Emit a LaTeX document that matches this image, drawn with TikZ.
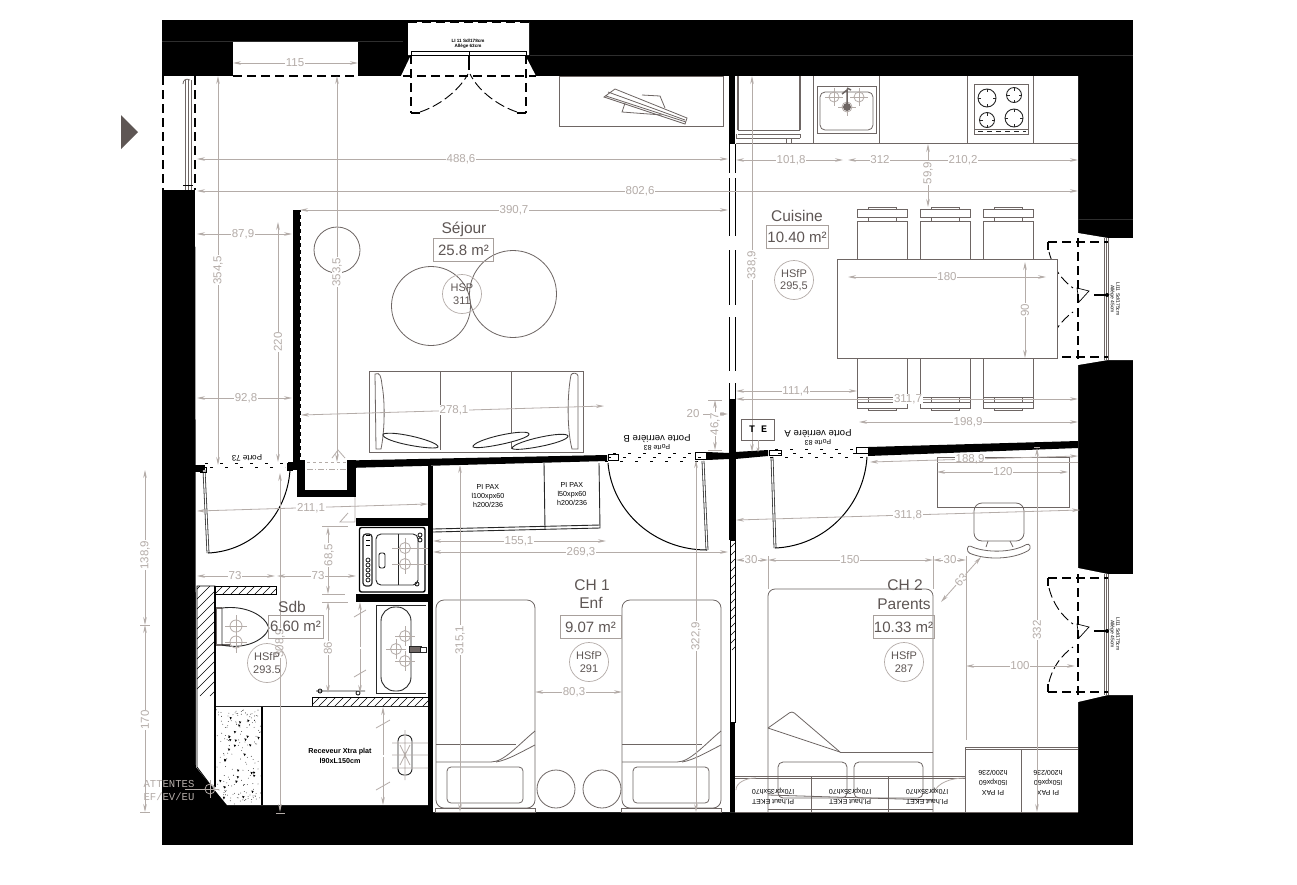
\documentclass[tikz,border=0pt]{standalone}
\usepackage{fontspec}
\setmainfont{Liberation Sans}
\newfontfamily\monof{Liberation Mono}
\usetikzlibrary{arrows.meta,calc}
\definecolor{dimc}{HTML}{B4ACA8}
\definecolor{roomc}{HTML}{5E5654}
\definecolor{linec}{HTML}{6E6664}
\definecolor{boxc}{HTML}{A8A09C}
\newcounter{nd}
\tikzset{
 dimline/.style={draw=dimc,line width=0.8pt,{Stealth[length=8pt,width=3.6pt]}-{Stealth[length=8pt,width=3.6pt]}},
 dimtext/.style={text=dimc,font=\fontsize{11.5}{13}\selectfont,fill=white,inner sep=0.6pt},
 ext/.style={draw=dimc,line width=0.8pt},
 furn/.style={draw=linec,line width=0.8pt},
 dark/.style={draw=black!85,line width=0.9pt},
 roomlabel/.style={text=roomc,font=\fontsize{15.5}{18}\selectfont,inner sep=0pt},
 arealabel/.style={draw=boxc,line width=0.7pt,text=roomc,font=\fontsize{15}{17}\selectfont,minimum height=23pt,inner sep=0pt,anchor=center},
 hsp/.style={circle,draw=dimc,line width=0.7pt,minimum size=39pt,inner sep=0pt,align=center,text=roomc,font=\fontsize{11}{12.5}\selectfont},
 tiny/.style={text=black,font=\fontsize{5.6}{7}\selectfont,align=center,inner sep=0pt},
 dashwin/.style={draw=black,line width=1.15pt,dash pattern=on 9pt off 5pt},
 dasharc/.style={draw=black,line width=0.9pt,dash pattern=on 10pt off 4pt},
 leaf/.style={draw=black!80,line width=0.8pt,double=white,double distance=1.2pt},
 swing/.style={draw=black,line width=1pt},
}
% dimension: from, to, text position, rotation, text
\newcommand{\dm}[5]{\stepcounter{nd}\draw[dimline] (#1) -- (#2);\node[dimtext,rotate=#4] (n\arabic{nd}) at (#3) {#5};}
\newcommand{\crossm}[3]{\draw[ext] (#1,#2) circle[radius=#3];\draw[ext] (#1-#3*1.8,#2) -- (#1+#3*1.8,#2) (#1,#2-#3*1.8) -- (#1,#2+#3*1.8);}
\newcommand{\burner}[3]{\draw[dark] (#1,#2) circle[radius=#3];\draw[dark] (#1-#3,#2) -- (#1-#3+3,#2) (#1+#3,#2) -- (#1+#3-3,#2) (#1,#2-#3) -- (#1,#2-#3+3) (#1,#2+#3) -- (#1,#2+#3-3);}
% hatching of a clip path: x range, y range
\newcommand{\hatch}[5]{\begin{scope}\clip #1;\foreach \k in {#2,#3,...,#4} {\draw[black,line width=0.6pt] (\k,#5) -- ++(-110,110);}\end{scope}\draw[black,line width=0.8pt] #1;}
\newcommand{\chairtop}[1]{
 \draw[furn] (#1,259) -- (#1,221) -- (#1+50,221) -- (#1+50,259);
 \draw[furn] (#1,209) rectangle (#1+50,217);
 \draw[furn] (#1+11,209) -- (#1+11,207) -- (#1+39,207) -- (#1+39,209);
 \draw[furn] (#1+11,217) -- (#1+11,221) (#1+39,217) -- (#1+39,221);}
\newcommand{\chairbot}[1]{
 \draw[furn] (#1,358) -- (#1,402) -- (#1+50,402) -- (#1+50,358);
 \draw[furn] (#1,397) -- (#1+50,397);
 \draw[furn] (#1,402) rectangle (#1+50,408);
 \draw[furn] (#1+11,408) -- (#1+11,410) -- (#1+39,410) -- (#1+39,408);
 \draw[furn] (#1+11,397) -- (#1+11,402) (#1+39,397) -- (#1+39,402);}
\newcommand{\bedone}[1]{
 \draw[furn,rounded corners=8pt] (#1,600) rectangle (#1+99,808);
 \draw[furn] (#1-1,808) rectangle (#1+99,812);
 \draw[furn] (#1,744) -- (#1+80,744);
 \draw[furn] (#1,762) -- (#1+55,762) .. controls (#1+68,762) and (#1+82,745) .. (#1+99,731);
 \draw[furn] (#1+60,762) .. controls (#1+72,760) and (#1+85,752) .. (#1+99,745);
 \draw[furn,rounded corners=4pt] (#1+11,767) rectangle (#1+87,803);}
\newcommand{\rwin}[4]{
 \fill[white] (1078,#1) -- (1108,#3) -- (1133,#3) -- (1133,#4) -- (1108,#4) -- (1078,#2) -- cycle;
 \draw[linec,line width=1pt] (1104,#3) -- (1104,#4) (1106,#3) -- (1106,#4) (1108,#3) -- (1108,#4);
 \draw[dashwin] (1048,#3+4) -- (1108,#3+4);
 \draw[dashwin] (1048,#4-3) -- (1108,#4-3);
 \draw[dashwin] (1078,#3) -- (1078,#4);
 \draw[black,line width=1.2pt] (1048,#3+4) -- (1048,#3+12) (1048,#4-3) -- (1048,#4-11);
 \draw[dasharc] (1049,#3+14) .. controls (1053,#3+30) and (1062,#3+42) .. (1073,#3+50);
 \draw[dasharc] (1049,#4-13) .. controls (1053,#4-29) and (1062,#4-40) .. (1073,#4-48);
 \draw[black,line width=0.7pt] (1077,#3+50) -- (1089,#3+53) -- (1079,#3+64) -- cycle;
 \draw[black,line width=1.4pt] (1094,#3+57) -- (1108,#3+57);
 \fill[black] (1107,#3+57) circle[radius=2pt];
}
\begin{document}
\begin{tikzpicture}[x=1pt,y=-1pt]
\useasboundingbox (0,0) rectangle (1297,884);
\fill[white] (0,0) rectangle (1297,884);
%% masonry
\fill[black] (162,20) rectangle (1133,845);
\fill[white] (195,76) -- (1078,76) -- (1078,812) -- (433,812) -- (433,805) -- (227,805) -- (196,767) -- cycle;
\draw[black!82!white,line width=0.3pt] (162,41) -- (403,41) (530,55) -- (1133,55) (1078,219) -- (1133,219);
% left window
\fill[white] (162,76) rectangle (195,190);
% top small window
\fill[white] (233,42) rectangle (358,76);
% top door
\fill[white] (408,22) rectangle (529,55) (411,55) -- (525,55) -- (536,76) -- (401,76) -- cycle;
\draw[dashwin] (408,22) -- (529,22);
\rwin{233}{365}{238}{360}
\rwin{568}{702}{574}{695}
\fill[roomc] (121,115) -- (138,132) -- (121,149) -- cycle;
%% interior walls
\fill[black] (347,460.5) -- (607,455) -- (607,461) -- (347,468) -- cycle;
\fill[black] (297,460) rectangle (305,497);
\fill[black] (347,460) rectangle (356,497);
\fill[black] (297,490) rectangle (356,497);
\fill[black] (195,465) -- (205,465) -- (205,472) -- (195,472) -- cycle;
\fill[black] (288,462) rectangle (297,470);
\fill[black] (428,466) rectangle (433,812);
\fill[black] (356,518) rectangle (428,526);
\fill[black] (356,594) rectangle (428,602);
\fill[black] (293,210) rectangle (301,465);
\foreach \k in {212,219,...,460} {\fill[white] (300,\k) rectangle (301,\k+3);}
\draw[dimc,line width=0.7pt,dashed] (307,462) -- (347,462);
\draw[dimc,line width=0.7pt,dash pattern=on 6pt off 2pt on 1pt off 2pt] (307,469) -- (347,469);
\draw[ext] (332,458) -- (338,450) -- (345,458);
\fill[black] (729,76) rectangle (735,144);
\fill[black] (729,399) rectangle (736,540);
\fill[black] (730,722) rectangle (735,812);
\fill[black] (707,452) -- (729,453) -- (729,459) -- (707,460) -- cycle;
\fill[black] (735,452) -- (768,450) -- (768,456) -- (735,459) -- cycle;
\fill[black] (868,447) -- (1078,441) -- (1078,448) -- (868,456) -- cycle;
\draw[black,line width=0.8pt] (729,144) -- (729,173) (735,144) -- (735,173) (729,178) -- (729,236) (735,178) -- (735,236) (729,250) -- (729,305) (735,250) -- (735,305) (729,317) -- (729,371) (735,317) -- (735,371) (729,383) -- (729,399) (735,383) -- (735,399);
\hatch{(730,540) rectangle (735,722)}{650}{658}{850}{540}
\hatch{(197,586) -- (215,586) -- (215,787) -- (212,787) -- (197,767) -- cycle}{170}{180}{450}{586}
\hatch{(215,586) rectangle (276,594)}{215}{223}{290}{586}
\hatch{(312,697) rectangle (428,706)}{312}{320}{440}{697}
\draw[dashwin] (163,76) -- (163,190);
\draw[dashwin] (195,76) -- (195,190);
\draw[linec,line width=0.8pt] (185,80) -- (185,190) (188,80) -- (188,190) (191,80) -- (191,190);
\draw[linec,line width=0.8pt] (183,84) .. controls (183,80) and (186,78) .. (190,80);
\draw[black,line width=0.7pt] (183,185) -- (193,185);
\draw[dashwin] (233,76) -- (358,76);
\draw[dashwin] (403,76) -- (536,76);
\draw[black,line width=0.8pt] (411,51) rectangle (526,55);
\draw[black,line width=0.8pt] (469,51) -- (469,57);
\draw[black,line width=1.2pt] (469,55) -- (469,70);
\draw[dashwin] (411,55) -- (411,113);
\draw[dashwin] (526,55) -- (526,113);
\draw[black,line width=1.2pt] (411,113) -- (420,113) (526,113) -- (517,113);
\draw[dasharc] (420,112) .. controls (438,106) and (458,92) .. (468,74);
\draw[dasharc] (517,112) .. controls (499,106) and (479,92) .. (470,74);
\node[tiny,font=\fontsize{4.6}{5.5}\selectfont\bfseries] (wintop) at (468,44) {LI 11 Sd/178cm\\Allège 63cm};
\node[tiny,rotate=-90,font=\fontsize{5}{5.5}\selectfont] (winr1) at (1115,299) {LI11 Sd/175cm\\Allège 45cm};
\node[tiny,rotate=-90,font=\fontsize{5}{5.5}\selectfont] (winr2) at (1115,634) {LI11 Sd/175cm\\Allège 45cm};
%% doors
\draw[leaf] (204,470) -- (208,553);
\draw[swing] (208,553) .. controls (253,551) and (287,515) .. (290,470);
\draw[leaf] (703,461) -- (707,550);
\draw[swing] (707,550) .. controls (655,550) and (612,512) .. (608,463);
\draw[leaf] (772,457) -- (775,548);
\draw[swing] (775,548) .. controls (825,546) and (864,506) .. (867,457);
\foreach \a/\b/\y in {205/288/463,210/285/467,613/700/453,608/705/457,605/705/461,775/865/449,778/862/453,770/867/457}{\draw[black,line width=1pt,dash pattern=on 3pt off 12pt] (\a,\y) -- (\b,\y);}
\draw[black,line width=0.7pt] (200,467) rectangle (206,472) (287,463) rectangle (292,470) (608,454) rectangle (618,460) (695,452) rectangle (706,459) (769,450) rectangle (781,455) (856,447) rectangle (868,453);
\node[tiny,rotate=181,font=\fontsize{8}{9}\selectfont] (p73) at (247,458) {Porte 73};
\node[tiny,rotate=181,font=\fontsize{9.6}{11}\selectfont] (pvb) at (657,439) {Porte verrière B};
\node[tiny,rotate=181,font=\fontsize{7}{8}\selectfont] (p83b) at (657,447.5) {Porte 83};
\node[tiny,rotate=181,font=\fontsize{9.6}{11}\selectfont] (pva) at (818,434) {Porte verrière A};
\node[tiny,rotate=181,font=\fontsize{7}{8}\selectfont] (p83a) at (818,442.5) {Porte 83};
%% living
\draw[furn] (559,76) rectangle (723,126);
\draw[furn] (604,97) -- (615,89) -- (687,118) -- (685,124) -- cycle (606,96) -- (686,122) (608,92) -- (685,120);
\draw[furn] (625,103) -- (622,112) -- (662,115) (642,95) -- (660,96) -- (665,108);
\draw[furn] (337,250) circle[radius=23];
\draw[furn] (431,306) circle[radius=39.5];
\draw[furn] (513,294) circle[radius=43.5];
\draw[furn] (369,371) rectangle (583,452);
\draw[furn] (440,371) -- (440,450) (511,371) -- (511,449);
\draw[furn] (375,374) .. controls (380,372) and (381,376) .. (382,385) .. controls (385,400) and (385,430) .. (381,449) -- (376,449) -- cycle;
\draw[furn] (571,375) .. controls (567,395) and (567,430) .. (572,449) -- (578,449) -- (578,376) .. controls (578,373) and (572,372) .. (571,375);
\draw[dark,fill=white] (383,434) .. controls (395,430) and (440,442) .. (438,447) .. controls (436,451) and (380,442) .. (383,434) -- cycle;
\draw[dark,fill=white] (473,446) .. controls (478,438) and (528,428) .. (529,434) .. controls (530,440) and (470,452) .. (473,446) -- cycle;
\draw[dark,fill=white] (512,448) .. controls (515,441) and (566,430) .. (568,436) .. controls (568,443) and (512,453) .. (512,448) -- cycle;
%% kitchen
\draw[furn] (736,143) -- (1078,143) (813,76) -- (813,143) (879,76) -- (879,143) (967,76) -- (967,143) (1033,76) -- (1033,143);
\draw[furn,line width=1.2pt] (738,76) -- (738,130) (800,76) -- (800,130);
\draw[furn] (738,130) -- (800,130) (738,134) -- (800,134) (736,138) -- (800,138) (736,134) -- (736,138) (800,134) -- (800,138) (786,138) -- (786,143) (791,138) -- (791,143);
\draw[furn] (817,86) rectangle (876,133);
\draw[furn,rounded corners=5pt] (820,92) rectangle (873,130);
\crossm{834}{97}{5}
\crossm{859}{97}{5}
\crossm{847}{107}{5}
\fill[linec] (847,107) circle[radius=4pt];
\draw[linec,line width=1.5pt] (847,107) -- (847,90) -- (842,94) (847,88) -- (851,90);
\draw[furn,line width=1pt] (974,84) rectangle (1028,134);
\draw[furn] (975,129) -- (1028,129);
\draw[dark,dash pattern=on 5pt off 4pt] (978,131) -- (1026,131);
\burner{987}{98}{9}
\burner{1014}{95}{7.5}
\burner{987}{120}{7.5}
\burner{1014}{118}{9}
\chairtop{857}\chairtop{920}\chairtop{983}
\chairbot{857}\chairbot{920}\chairbot{983}
\draw[furn,fill=white] (837,259) rectangle (1057,358);
%% chambers
\draw[furn] (937,457) rectangle (1069,507);
\draw[furn,rounded corners=8pt] (974,503) rectangle (1024,541);
\draw[furn] (988,541) -- (986,547) (1010,541) -- (1013,547);
\draw[furn,rounded corners=3pt] (968,545) .. controls (985,553) and (1012,553) .. (1029,543) -- (1031,549) .. controls (1012,560) and (985,560) .. (967,552) -- cycle;
\bedone{436}\bedone{622}
\draw[furn] (556,789) circle[radius=19] (602,789) circle[radius=19];
\draw[furn,rounded corners=7pt] (768,812) -- (768,589) -- (933,589) -- (933,812);
\draw[furn] (768,809) -- (933,809);
\draw[furn] (840,752) -- (933,752);
\draw[furn] (768,728) -- (840,752);
\draw[furn,rounded corners=3pt] (768,728) -- (792,711) -- (840,752);
\draw[furn,rounded corners=5pt] (778,762) rectangle (847,798) (854,762) rectangle (923,798);
\draw[furn] (735,776) -- (965,776) (735,778) -- (965,778) (811,776) -- (811,812) (888,776) -- (888,812);
\draw[ext] (756,778) .. controls (745,778) and (736,783) .. (736,790);
\draw[ext] (965,778) .. controls (950,778) and (938,783) .. (934,792);
\draw[furn] (768,795) -- (933,800);
\draw[furn,line width=1pt] (965,747) -- (1078,747) (965,749) -- (1078,749) (965,747) -- (965,812) (1021,749) -- (1021,812);
\draw[furn,line width=1pt] (735,812) -- (1078,812);
%% closets
\draw[dark] (433,532) -- (600,528) -- (599,463);
\draw[dark] (433,529) -- (600,525);
\draw[dark] (544,463) -- (545,529);
\node[tiny,rotate=1,font=\fontsize{7.2}{9}\selectfont] (pax1) at (488,496) {PI PAX\\l100xpx60\\h200/236};
\node[tiny,rotate=1,font=\fontsize{7.2}{9}\selectfont] (pax2) at (572,494) {PI PAX\\l50xpx60\\h200/236};
\foreach \x/\n in {773/e1,850/e2,927/e3}{\node[tiny,rotate=180,font=\fontsize{7}{10}\selectfont] (\n) at (\x,796) {Pl.haut EKET\\l70xpr35xh70};}
\node[tiny,rotate=180,font=\fontsize{7}{10}\selectfont] (pax3) at (993,783) {PI PAX\\l50xpx60\\h200/236};
\node[tiny,rotate=180,font=\fontsize{7}{10}\selectfont] (pax4) at (1048,783) {PI PAX\\l50xpx60\\h200/236};
%% bath
\draw[furn,line width=1.2pt] (216,608) -- (216,645) (216,608) -- (222,608) (216,645) -- (230,645);
\draw[black!85,line width=0.9pt] (222,645) -- (222,608) .. controls (245,605) and (265,615) .. (269,628) .. controls (265,640) and (245,650) .. (222,645);
\crossm{236}{626}{6}
\crossm{236}{642}{6}
\draw[black,line width=1.4pt,rounded corners=2pt] (359.5,527.5) rectangle (425,592);
\draw[dark,rounded corners=5pt] (376,534) rectangle (418,585);
\draw[dark] (398,534) -- (398,585);
\draw[dark,rounded corners=2pt] (379,553) rectangle (385,568);
\draw[dark,line width=1.2pt,rounded corners=3pt] (363,534) rectangle (372,586);
\foreach \y in {560,565,570,575,580} {\draw[black,line width=0.7pt] (368,\y) circle[radius=2];}
\foreach \y in {535,540,545} {\draw[black,line width=0.7pt] (366,\y) -- (370,\y);}
\draw[dark] (420,535) circle[radius=2] (420,540) circle[radius=2] (417,584) circle[radius=2];
\crossm{405}{548}{5.5}
\crossm{405}{564}{5.5}
\draw[ext] (392,548) -- (428,548) (392,564) -- (428,564);
\draw[dark,line width=1pt] (376,605) -- (376,693) -- (426,693) (376,605) -- (426,605);
\draw[dark,rounded corners=14pt] (381,607) rectangle (411,691);
\crossm{405}{636}{5.5}
\crossm{396}{649}{5.5}
\crossm{405}{661}{5.5}
\draw[dark,fill=linec] (409,646) rectangle (421,652);
\draw[dark,fill=white] (420,647) rectangle (426,652);
\draw[dark,line width=1pt] (215,706) -- (428,706);
\draw[dark] (316,691) -- (365,691) (320,691) circle[radius=2] (358,693) circle[radius=2];
\draw[black,line width=1.2pt] (262,707) -- (262,805) (215,586) -- (215,787);
\begin{scope}
\clip (216,707) rectangle (262,805) ;
\pgfmathsetseed{17}
\foreach \i in {1,...,170} {\pgfmathsetmacro\px{216+46*rnd}\pgfmathsetmacro\py{708+96*rnd}\fill[black] (\px,\py) circle[radius=0.4];}
\foreach \i in {1,...,28} {\pgfmathsetmacro\px{218+42*rnd}\pgfmathsetmacro\py{712+88*rnd}\fill[black] (\px,\py) -- ++(2.4,0.6) -- ++(-1.4,2) -- cycle;}
\end{scope}
\draw[dark,rounded corners=6pt] (398,735) rectangle (412,775);
\draw[ext] (400,745) -- (410,765) (410,745) -- (400,765) (405,730) -- (405,780) (392,743) -- (428,743) (392,755) -- (428,755) (392,768) -- (428,768);
\node[tiny,font=\fontsize{7.2}{10}\selectfont\bfseries] (rcv) at (340,756) {Receveur Xtra plat\\l90xL150cm};
%% dimension lines
\dm{233,63}{358,63}{295,63}{0}{115}
\dm{197,159}{728,159}{461,159}{0}{488,6}
\dm{197,191}{1078,191}{640,191}{0}{802,6}
\dm{300,210}{728,210}{514,210}{0}{390,7}
\dm{197,234}{292,234}{243,234}{0}{87,9}
\dm{197,398}{292,398}{246,398}{0}{92,8}
\dm{301,415}{604,406}{454,410}{0}{278,1}
\dm{433,541}{606,541}{519,541}{0}{155,1}
\dm{433,552}{728,552}{581,552}{0}{269,3}
\dm{197,511}{428,504}{311,508}{0}{211,1}
\dm{197,576}{275,576}{235,576}{0}{73}
\dm{277,576}{356,576}{318,576}{0}{73}
\dm{535,692}{622,692}{574,692}{0}{80,3}
\dm{736,160}{843,160}{791,160}{0}{101,8}
\dm{848,160}{1078,160}{880,160}{0}{312}
\node[dimtext] (n210) at (963,160) {210,2};
\dm{928,144}{928,207}{928,173}{90}{59,9}
\dm{848,277}{1046,277}{947,277}{0}{180}
\dm{1025,262}{1025,358}{1025,310}{90}{90}
\dm{736,391}{857,391}{796,391}{0}{111,4}
\dm{736,399}{1078,399}{908,399}{0}{311,7}
\dm{859,422}{1078,422}{968,422}{0}{198,9}
\draw[ext] (703,414) -- (716,414) (708,400) -- (722,400) (708,450) -- (722,450);
\dm{716,414}{728,414}{693,414}{0}{20}
\dm{715,400}{715,450}{715,424}{90}{46,7}
\dm{870,462}{1078,456}{970,459}{0}{188,9}
\dm{937,472}{1068,472}{1003,472}{0}{120}
\dm{736,520}{1080,510}{908,515}{0}{311,8}
\dm{736,560}{768,560}{751,560}{0}{30}
\dm{768,560}{933,560}{850,560}{0}{150}
\dm{933,560}{966,560}{950,560}{0}{30}
\dm{966,666}{1075,666}{1020,666}{0}{100}
\dm{981,557}{941,602}{961,580}{50}{63}
\dm{218,76}{218,465}{218,270}{90}{354,5}
\dm{337,76}{337,462}{337,272}{90}{353,5}
\dm{278,222}{278,462}{278,342}{90}{220}
\dm{752,76}{752,452}{752,265}{90}{338,9}
\dm{145,470}{145,625}{145,555}{90}{138,9}
\dm{145,625}{145,812}{145,720}{90}{170}
\dm{280,473}{280,812}{280,643}{90}{308,9}
\dm{460,465}{460,812}{460,640}{90}{315,1}
\dm{696,460}{696,812}{696,636}{90}{322,9}
\dm{1037,448}{1037,812}{1037,630}{90}{332}
\dm{328,602}{328,693}{328,648}{90}{86}
\dm{328,527}{328,594}{329,555}{90}{68,5}
\dm{360,602}{360,693}{360,648}{90}{}
\dm{383,707}{383,805}{383,756}{90}{}
\draw[ext] (322,526) -- (348,526) (322,594) -- (345,594) (322,602) -- (348,602) (140,625) -- (150,625) (140,812) -- (150,812) (276,813) -- (285,813);
\draw[ext] (355,497) -- (355,522) -- (340,522) -- (348,513);
\draw[ext] (768,556) -- (768,589) (933,556) -- (933,589) (966,556) -- (966,740) (937,462) -- (1078,462);
\draw[ext] (1034,447) -- (1040,447) (1037,455) -- (1037,467);
\draw[ext] (354,617) -- (366,610) (354,677) -- (366,670) (376,728) -- (390,720) (376,790) -- (390,782);
%% room labels
\node[roomlabel] (sej) at (464,229) {Séjour};
\node[arealabel,minimum width=60pt] (sejA) at (463.5,250) {25.8 m²};
\node[hsp] (sejH) at (462,294) {HSP\\311};
\node[roomlabel] (cui) at (797,216) {Cuisine};
\node[arealabel,minimum width=62pt] (cuiA) at (797,237) {10.40 m²};
\node[hsp] (cuiH) at (794,280) {HSfP\\295,5};
\node[roomlabel] (sdb) at (292,607) {Sdb};
\node[arealabel,minimum width=55pt] (sdbA) at (295.5,626.5) {6.60 m²};
\node[hsp] (sdbH) at (267,663) {HSfP\\293.5};
\node[roomlabel] (ch1) at (592,585) {CH 1};
\node[roomlabel] (enf) at (591,603) {Enf};
\node[arealabel,minimum width=61pt,fill=white] (ch1A) at (590.5,627) {9.07 m²};
\node[hsp] (ch1H) at (589,662) {HSfP\\291};
\node[roomlabel] (ch2) at (905,585) {CH 2};
\node[roomlabel] (par) at (904,604) {Parents};
\node[arealabel,minimum width=61pt] (ch2A) at (903.5,627) {10.33 m²};
\node[hsp] (ch2H) at (904,662) {HSfP\\287};
\node[draw=linec,line width=0.7pt,minimum width=33pt,minimum height=21pt,inner sep=0pt,font=\fontsize{10}{12}\selectfont\monof\bfseries] (te) at (758,429.5) {T E};
\draw[ext,-{Stealth[length=5pt,width=3pt]}] (te.south) -- +(0,12);
\node[text=dimc,font=\fontsize{10.6}{13}\selectfont\monof,align=left,inner sep=0pt] (att) at (169,790) {ATTENTES\\EF/EV/EU};
\draw[ext] (185,789) -- (205,789);
\crossm{210}{789}{5}
\end{tikzpicture}
\end{document}
